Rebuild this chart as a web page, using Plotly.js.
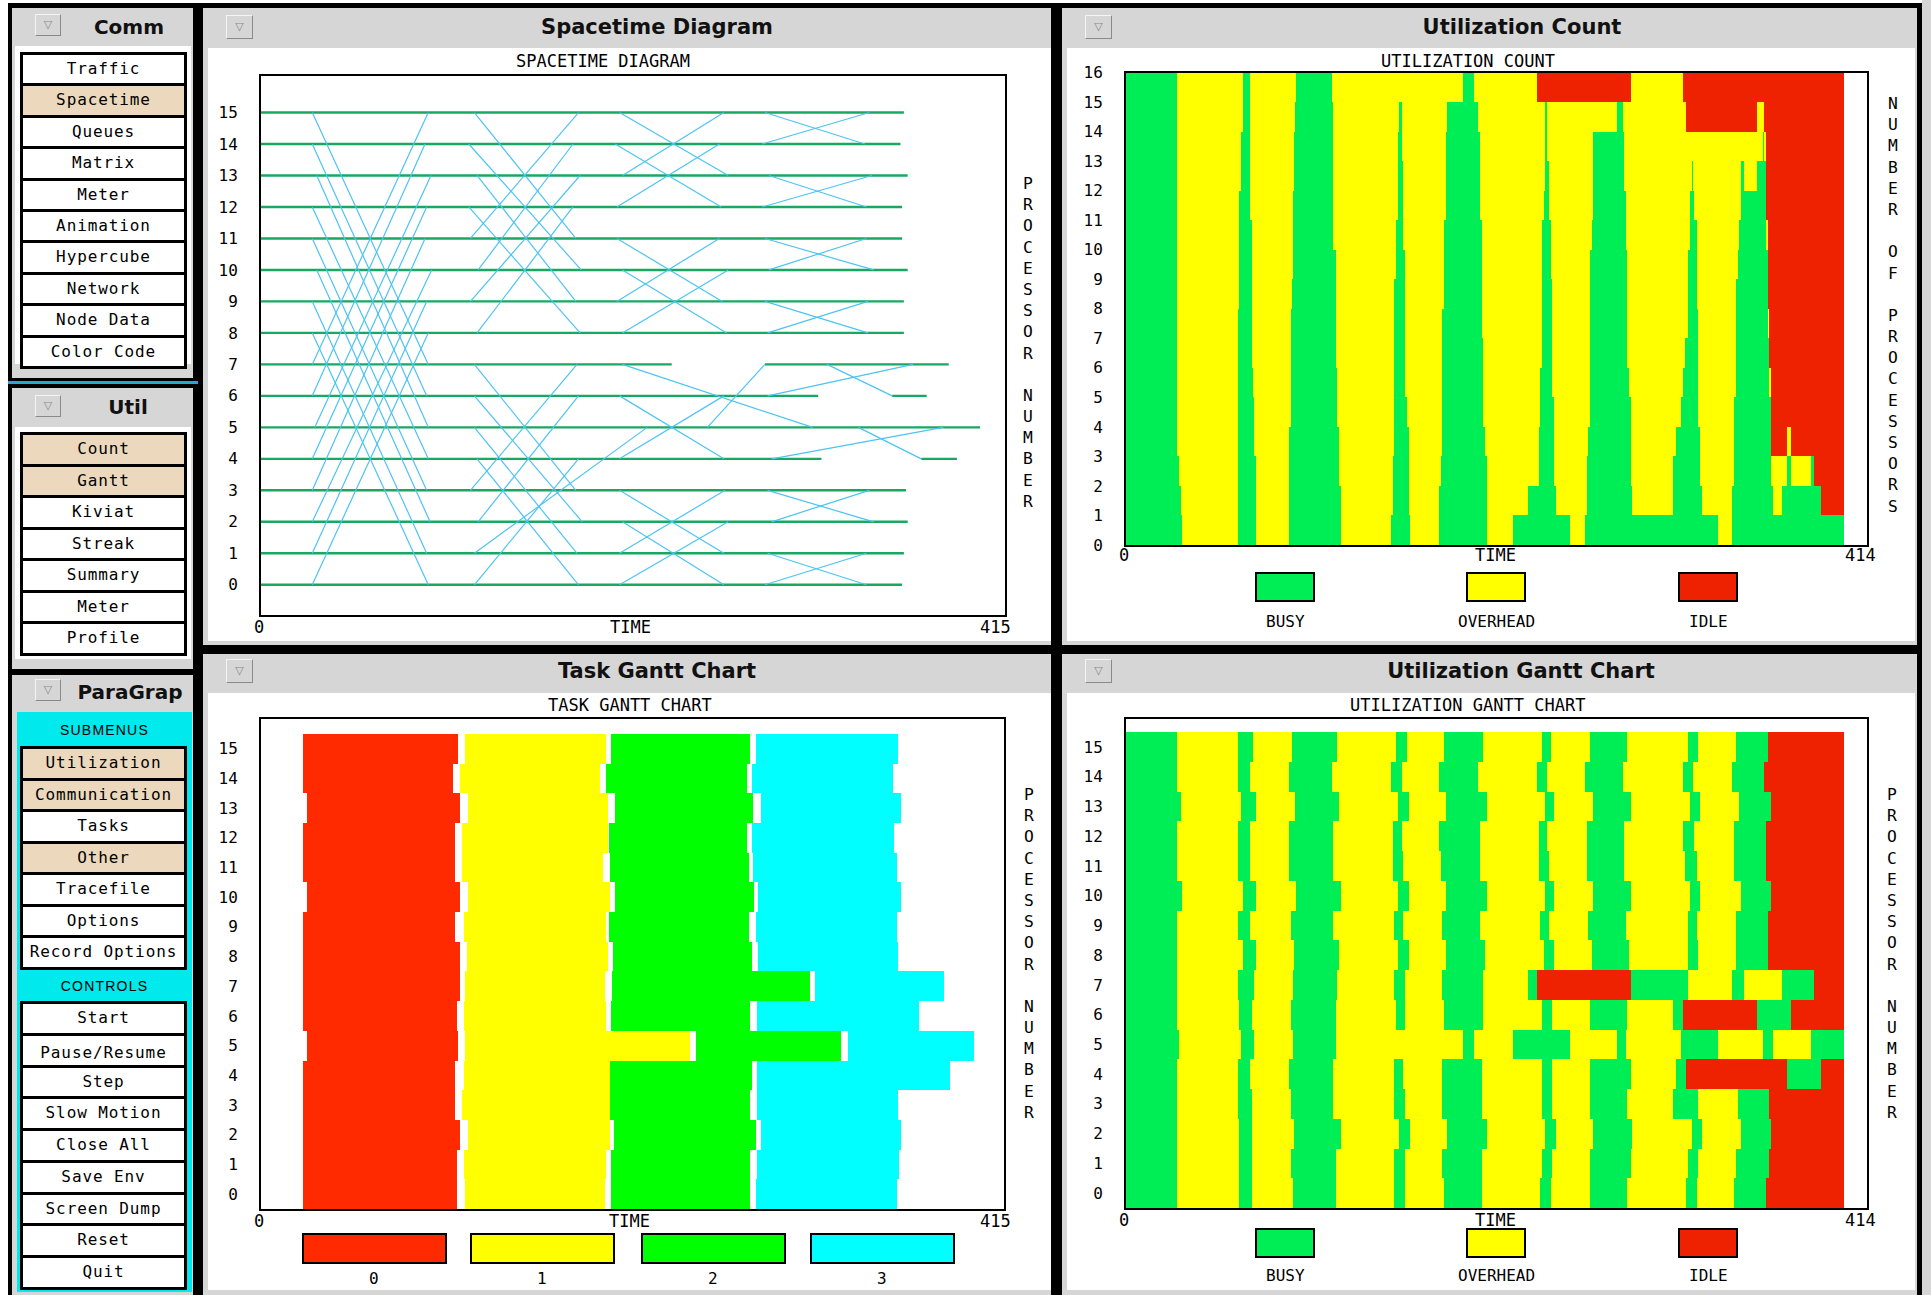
<!DOCTYPE html>
<html><head><meta charset="utf-8">
<script src="https://cdn.plot.ly/plotly-3.0.1.min.js"></script>
<style>
body{margin:0;width:1931px;height:1295px;overflow:hidden;background:#fff;position:relative;}
#chrome div{box-sizing:border-box;}
#plot{position:absolute;left:0;top:0;width:1931px;height:1295px;}
</style></head><body>
<div id="chrome"></div>
<div id="plot"></div>
<script>
// ---------------- DATA ----------------
// Sidebar menus
const commMenu = ["Traffic","Spacetime","Queues","Matrix","Meter","Animation","Hypercube","Network","Node Data","Color Code"];
const utilMenu = ["Count","Gantt","Kiviat","Streak","Summary","Meter","Profile"];
const subMenu = ["Utilization","Communication","Tasks","Other","Tracefile","Options","Record Options"];
const controlMenu = ["Start","Pause/Resume","Step","Slow Motion","Close All","Save Env","Screen Dump","Reset","Quit"];
const selectedItems = ["Spacetime","Count","Gantt","Utilization","Communication","Other"];

const processors = [0,1,2,3,4,5,6,7,8,9,10,11,12,13,14,15];
const countTicks = [0,1,2,3,4,5,6,7,8,9,10,11,12,13,14,15,16];

// Spacetime: processor activity lines
const lineProc  = [15,14,13,12,11,10,9,8,7,7,6,6,5,4,4,3,2,1,0];
const lineStart = [0,0,0,0,0,0,0,0,0,281.1,0,352.1,0,0,368.3,0,0,0,0];
const lineEnd   = [358.6,356.7,360.7,357.6,357.6,360.7,358.6,358.6,229.1,383.6,310.8,371.3,401.1,312.6,388.2,359.8,360.7,358.6,357.6];
// Spacetime: messages (from, to, send time, receive time)
const msgFrom = [15,14,13,12,11,10,9,8,7,6,5,4,3,2,1,0,
                 15,14,13,12,11,10,9,8,7,6,5,4,3,2,1,0,
                 15,14,13,12,11,10,9,8,7,6,5,4,3,2,1,0,
                 15,14,13,12,11,10,9,8,7,6,5,4,3,2,1,0];
const msgTo   = [7,6,5,4,3,2,1,0,15,14,13,12,11,10,9,8,
                 11,10,9,8,15,14,13,12,3,2,1,0,7,6,5,4,
                 13,12,15,14,9,8,11,10,5,4,7,6,1,0,3,2,
                 14,15,12,13,10,11,8,9,6,7,4,5,2,3,0,1];
const msgSend = [28.6,28.6,31.1,28.6,28.6,31.1,28.6,28.6,28.6,28.6,30.0,28.6,28.6,28.6,28.6,28.6,
                 119.0,115.9,120.5,115.9,116.8,121.1,116.8,120.5,119.0,119.0,119.0,120.5,116.8,121.1,119.0,119.0,
                 200.0,197.6,201.6,198.5,198.5,201.6,198.5,201.6,201.6,200.0,249.0,200.0,200.0,201.6,200.0,200.0,
                 281.1,279.6,283.3,279.6,281.1,283.3,281.1,282.6,315.7,282.6,333.2,284.8,282.6,284.8,282.6,281.1];
const msgRecv = [93.3,92.4,93.3,93.3,92.4,94.3,92.4,93.3,93.3,91.5,94.8,92.4,91.5,95.2,92.4,93.3,
                 175.6,178.6,175.6,178.0,177.1,174.0,178.0,174.0,175.6,179.2,176.3,177.1,176.3,177.1,215.4,177.1,
                 260.6,256.7,258.2,255.7,257.3,259.7,255.7,260.6,307.7,258.2,281.1,258.2,258.2,258.2,258.8,260.6,
                 336.8,339.3,337.7,340.8,341.7,337.7,338.6,338.6,352.1,363.7,368.3,380.6,341.7,339.3,337.7,337.7];

// Task Gantt: start / end of each task on processors 0..15
const taskNames = ["0","1","2","3"];
const task0Start = [23.5,23.5,23.5,23.5,23.5,25.7,23.5,23.5,23.5,23.5,25.7,23.5,23.5,25.7,23.5,23.5];
const task0End   = [109.3,109.3,111.2,108.4,108.4,109.9,109.3,110.9,111.2,108.4,111.2,108.4,108.4,111.2,107.2,109.9];
const task1Start = [114.2,113.3,115.4,112.1,113.3,114.2,113.3,114.2,115.1,113.3,115.4,112.1,112.4,115.4,110.9,114.2];
const task1End   = [192.0,192.6,194.8,194.8,194.8,239.5,192.6,192.0,193.6,192.6,194.8,191.1,193.6,193.6,189.6,192.6];
const task2Start = [195.7,195.7,197.3,195.1,195.1,243.2,195.7,196.3,196.6,194.2,197.9,195.1,194.2,197.9,192.6,195.7];
const task2End   = [273.2,273.2,276.3,273.2,274.1,323.8,273.2,306.9,274.1,272.3,275.3,272.3,271.4,274.7,271.4,273.2];
const task3Start = [276.3,277.2,279.0,277.2,277.2,327.7,277.2,309.7,277.8,276.3,277.8,274.7,274.1,279.0,274.1,276.3];
const task3End   = [355.0,356.5,357.4,355.6,385.0,398.2,367.6,381.7,355.6,355.0,357.4,355.0,353.5,357.4,352.9,355.6];

// Utilization Gantt: state change times per processor, and state of each interval
// B = busy, O = overhead, I = idle
const stateNames = ["BUSY","OVERHEAD","IDLE"];
const utilBounds = [
 [0,28.7,63.3,70.2,93.1,117.1,149.9,155.9,177.7,198.7,231.3,237.3,259.2,280.1,312.9,318.8,339.9,357.6,401.1],
 [0,28.7,63.3,70.2,92.2,117.1,149.9,155.9,176.7,198.7,232.6,238.2,259.2,282.0,314.2,319.8,340.8,359.4,401.1],
 [0,28.7,63.3,70.2,94.0,120.1,152.7,158.9,179.5,201.5,234.1,240.1,261.1,282.9,316.0,321.6,343.6,360.4,401.1],
 [0,28.7,62.4,70.2,92.2,115.8,149.9,155.9,176.7,198.7,232.2,238.2,259.2,280.1,305.8,319.8,341.7,359.4,401.1],
 [0,28.7,62.4,69.3,91.3,115.8,149.9,154.9,176.7,198.7,232.6,238.2,259.2,282.0,307.1,312.9,369.5,388.3,401.1],
 [0,29.6,64.3,71.5,93.1,117.1,188.5,194.4,216.4,248.1,274.1,279.2,309.9,330.9,355.7,361.7,382.5,401.1],
 [0,28.7,63.3,70.2,92.2,117.1,150.8,155.9,177.7,199.6,232.6,238.2,259.2,280.1,305.8,311.0,352.7,371.5,401.1],
 [0,28.7,62.4,71.5,93.1,118.1,149.9,155.9,176.7,199.6,224.4,229.4,282.0,313.8,338.8,345.5,366.7,384.4,401.1],
 [0,28.7,65.6,72.4,94.0,119.2,152.2,157.9,178.6,200.6,233.5,239.1,260.2,281.0,314.2,319.8,340.8,358.5,401.1],
 [0,28.7,62.4,69.3,92.2,115.8,149.9,154.9,176.7,197.8,231.3,236.3,258.3,279.2,314.2,318.8,340.8,358.5,401.1],
 [0,31.5,65.6,72.4,95.0,120.1,152.2,157.9,178.6,201.5,234.1,239.1,261.1,282.0,315.1,320.7,343.6,360.4,401.1],
 [0,28.7,62.4,69.3,91.3,115.8,149.0,154.9,175.8,197.8,230.7,236.3,257.4,278.2,312.3,318.8,339.9,357.6,401.1],
 [0,28.7,62.4,69.3,91.3,115.8,149.0,154.0,174.9,197.8,230.7,235.4,257.4,278.2,311.4,317.3,339.9,357.6,401.1],
 [0,30.5,64.3,72.4,94.4,119.2,152.2,157.9,178.6,201.5,234.1,239.1,261.1,282.0,315.1,320.7,342.7,360.4,401.1],
 [0,28.7,62.4,69.3,91.3,114.9,147.9,154.0,174.9,196.5,229.4,235.4,256.4,277.9,311.0,317.0,338.8,356.6,401.1],
 [0,28.7,62.4,71.1,92.9,118.1,150.8,156.8,177.7,199.6,232.2,237.3,259.2,280.1,314.2,319.8,340.8,358.5,401.1]
];
const utilStates = [
 "BOBOBOBOBOBOBOBOBI","BOBOBOBOBOBOBOBOBI","BOBOBOBOBOBOBOBOBI","BOBOBOBOBOBOBOBOBI",
 "BOBOBOBOBOBOBOBIBI","BOBOBOBOBOBOBOBOB","BOBOBOBOBOBOBOBIBI","BOBOBOBOBOBIBOBOBI",
 "BOBOBOBOBOBOBOBOBI","BOBOBOBOBOBOBOBOBI","BOBOBOBOBOBOBOBOBI","BOBOBOBOBOBOBOBOBI",
 "BOBOBOBOBOBOBOBOBI","BOBOBOBOBOBOBOBOBI","BOBOBOBOBOBOBOBOBI","BOBOBOBOBOBOBOBOBI"
];

// ---------------- STYLE ----------------
const C = {busy:'#00ee55', over:'#ffff00', idle:'#ee2200',
           task:['#ff2a00','#ffff00','#00ff00','#00ffff'],
           procLine:'#18a862', msg:'#4cc4f2', hl:'#ecd9bd', gray:'#d6d6d6', cyan:'#00e9ec'};
const MONO = '"DejaVu Sans Mono", "Liberation Mono", monospace';
const W = 1931, H = 1295;

// ---------------- CHROME (HTML) ----------------
const chrome = document.getElementById('chrome');
function el(x,y,w,h,style,text){
  const d=document.createElement('div');
  d.style.cssText=`position:absolute;left:${x}px;top:${y}px;width:${w}px;height:${h}px;${style||''}`;
  if(text!=null) d.textContent=text;
  chrome.appendChild(d); return d;
}
function title(cx,cy,text,size){
  el(cx-200,cy-15,400,30,`font:bold ${size}px "DejaVu Sans",sans-serif;color:#111;text-align:center;line-height:30px;white-space:nowrap;`,text);
}
function tri(x,y,w,h){
  el(x,y,w,h,`background:${C.gray};border:1px solid;border-color:#f4f4f4 #8a8a8a #8a8a8a #f4f4f4;font:11px "DejaVu Sans";color:#888;text-align:center;line-height:${h-2}px;`,'\u25BD');
}
function group(x,y,w,h,labels){
  el(x,y,w,h,'background:#000');
  const n=labels.length, bh=(h-6-3*(n-1))/n;
  labels.forEach((t,i)=>{
    const pr = t==='Pause/Resume';
    el(x+3,y+3+i*(bh+3),w-6,bh,
      `background:${selectedItems.includes(t)?C.hl:'#fff'};font:16px ${MONO};letter-spacing:0.9px;text-align:center;line-height:${pr?bh+6:bh}px;color:#000;white-space:nowrap;overflow:hidden;`,t);
  });
}
// sidebar
el(8,3,190,1292,'background:#000');
el(12,8,181,370,`background:${C.gray}`);
el(15,46,176,318,'background:#fff');
title(129,27,'Comm',20); tri(35,14,26,22);
group(20,52,167,317,commMenu);
el(8,381,190,3,`background:#2aa7d0`);
el(12,388,181,281,`background:${C.gray}`);
el(15,427,176,232,'background:#fff');
title(128,407,'Util',20); tri(35,395,26,22);
group(20,432,167,224,utilMenu);
el(12,675,181,620,`background:${C.gray}`);
title(130,692,'ParaGrap',20); tri(35,679,26,22);
el(17,712,175,580,`background:${C.cyan}`);
el(17,720,175,20,'font:14px "Liberation Sans",Arial,sans-serif;letter-spacing:1.2px;text-align:center;line-height:20px;color:#000;','SUBMENUS');
group(20,746,167,224,subMenu);
el(17,976,175,20,'font:14px "Liberation Sans",Arial,sans-serif;letter-spacing:1.2px;text-align:center;line-height:20px;color:#000;','CONTROLS');
group(20,1001,167,289,controlMenu);
// main windows
el(198,3,1724,1292,'background:#000');
el(1922,0,9,1295,`background:${C.gray}`);
const wins = [
  {x:203,y:8,w:848,h:637,cy:27,tx:657,t:'Spacetime Diagram'},
  {x:1062,y:8,w:855,h:637,cy:27,tx:1522,t:'Utilization Count'},
  {x:203,y:654,w:848,h:641,cy:671,tx:657,t:'Task Gantt Chart'},
  {x:1062,y:654,w:855,h:641,cy:671,tx:1521,t:'Utilization Gantt Chart'}
];
wins.forEach(o=>{
  el(o.x,o.y,o.w,o.h,`background:${C.gray}`);
  el(o.x+5,o.y+40-(o.y>600?1:0),o.w-(o.x>1000?7:5),o.h-44,'background:#fff');
  title(o.tx,o.cy,o.t,21);
  tri(o.x+23,o.cy-12,27,24);
});

// ---------------- PLOT ----------------
const px = x => x/W, py = y => 1 - y/H;
const traces = [];

// Spacetime: processor lines
{
  const xs=[],ys=[];
  lineProc.forEach((p,i)=>{xs.push(lineStart[i],lineEnd[i],null);ys.push(p,p,null);});
  traces.push({type:'scatter',mode:'lines',x:xs,y:ys,xaxis:'x',yaxis:'y',line:{color:C.procLine,width:2.4},hoverinfo:'skip'});
}
// Spacetime: messages
{
  const xs=[],ys=[];
  msgFrom.forEach((f,i)=>{xs.push(msgSend[i],msgRecv[i],null);ys.push(f,msgTo[i],null);});
  traces.push({type:'scatter',mode:'lines',x:xs,y:ys,xaxis:'x',yaxis:'y',line:{color:C.msg,width:1.2},hoverinfo:'skip'});
}

// Task Gantt bars
const taskStarts=[task0Start,task1Start,task2Start,task3Start];
const taskEnds=[task0End,task1End,task2End,task3End];
taskNames.forEach((nm,k)=>{
  traces.push({type:'bar',orientation:'h',y:processors,base:taskStarts[k],
    x:processors.map(p=>taskEnds[k][p]-taskStarts[k][p]),width:processors.map(()=>1),
    xaxis:'x3',yaxis:'y3',marker:{color:C.task[k],line:{width:0}},name:nm,hoverinfo:'skip'});
});

// Utilization Gantt bars
const stateKey = {B:0,O:1,I:2};
const stateColor = [C.busy,C.over,C.idle];
const ug = [0,1,2].map(()=>({y:[],base:[],x:[]}));
processors.forEach(p=>{
  const b=utilBounds[p], s=utilStates[p];
  for(let i=0;i<s.length;i++){
    const k=stateKey[s[i]];
    ug[k].y.push(p); ug[k].base.push(b[i]); ug[k].x.push(b[i+1]-b[i]);
  }
});
ug.forEach((g,k)=>traces.push({type:'bar',orientation:'h',y:g.y,base:g.base,x:g.x,width:g.y.map(()=>1),
  xaxis:'x4',yaxis:'y4',marker:{color:stateColor[k],line:{width:0}},name:stateNames[k],hoverinfo:'skip'}));

// Utilization Count: number of processors in each state over time (aggregated from the Gantt data)
{
  const set=new Set(); utilBounds.forEach(b=>b.forEach(t=>set.add(t)));
  const times=[...set].sort((a,b)=>a-b);
  const mids=[],wids=[],cnt=[[],[],[]];
  for(let i=0;i<times.length-1;i++){
    const m=(times[i]+times[i+1])/2, c=[0,0,0];
    processors.forEach(p=>{
      const b=utilBounds[p], s=utilStates[p];
      for(let j=0;j<s.length;j++){ if(m>=b[j]&&m<b[j+1]){c[stateKey[s[j]]]++;break;} }
    });
    mids.push(m); wids.push(times[i+1]-times[i]); c.forEach((v,k)=>cnt[k].push(v));
  }
  const base1=cnt[0], base2=cnt[0].map((v,i)=>v+cnt[1][i]);
  [[cnt[0],mids.map(()=>0)],[cnt[1],base1],[cnt[2],base2]].forEach(([h,bs],k)=>{
    traces.push({type:'bar',x:mids,y:h,base:bs,width:wids,xaxis:'x2',yaxis:'y2',
      marker:{color:stateColor[k],line:{width:0}},name:stateNames[k],hoverinfo:'skip'});
  });
}

const xax = (d,r)=>({domain:[px(d[0]),px(d[1])],range:r,showline:true,mirror:true,linecolor:'#000',linewidth:2,
  showgrid:false,zeroline:false,showticklabels:false,ticks:'',fixedrange:true});
const yax = (d,r,vals)=>({domain:[py(d[1]),py(d[0])],range:r,showline:true,mirror:true,linecolor:'#000',linewidth:2,
  showgrid:false,zeroline:false,ticks:'',tickmode:'array',tickvals:vals,ticktext:vals.map(String),
  tickfont:{family:MONO,size:16,color:'#000'},ticklabelstandoff:18,fixedrange:true});

const ann=[], shp=[];
const F17 = {family:MONO,size:17,color:'#000'};
function txt(t,x,y,size,extra){ann.push(Object.assign({text:t,x:px(x),y:py(y),xref:'paper',yref:'paper',showarrow:false,
  xanchor:'center',yanchor:'middle',font:{family:MONO,size:size||17,color:'#000'}},extra||{}));}
function vtxt(t,x,y){txt(t.split('').map(c=>c===' '?'\u00a0':c).join('<br>'),x,y,16.3);}
function endLabel(t,val,xr,y,shift){ann.push({text:t,x:val,xref:xr,y:py(y),yref:'paper',showarrow:false,
  xanchor:'center',yanchor:'middle',xshift:shift,font:F17});}

// spacetime
txt('SPACETIME DIAGRAM',603,61);
txt('TIME',630,627);
endLabel('0',0,'x',627,-2); endLabel('415',415,'x',627,-10);
vtxt('PROCESSOR NUMBER',1028,342);
// count
txt('UTILIZATION COUNT',1467.5,61);
txt('TIME',1495,555);
endLabel('0',0,'x2',555,-2); endLabel('414',414,'x2',555,-7);
vtxt('NUMBER OF PROCESSORS',1893,305);
// task gantt
txt('TASK GANTT CHART',629.5,705);
txt('TIME',629.5,1221);
endLabel('0',0,'x3',1221,-2); endLabel('415',415,'x3',1221,-9);
vtxt('PROCESSOR NUMBER',1029,953);
// util gantt
txt('UTILIZATION GANTT CHART',1467.8,705);
txt('TIME',1495,1220);
endLabel('0',0,'x4',1220,-2); endLabel('414',414,'x4',1220,-7);
vtxt('PROCESSOR NUMBER',1892,953);

// legends
function legBox(x0,x1,y0,y1,col){shp.push({type:'rect',xref:'paper',yref:'paper',x0:px(x0),x1:px(x1),y0:py(y1),y1:py(y0),
  fillcolor:col,line:{color:'#000',width:2}});}
const stateLegX=[1256,1467,1679];
stateNames.forEach((nm,k)=>{
  legBox(stateLegX[k],stateLegX[k]+58,573,601,stateColor[k]); txt(nm,stateLegX[k]+29,621,16);
  legBox(stateLegX[k],stateLegX[k]+58,1229,1257,stateColor[k]); txt(nm,stateLegX[k]+29,1275,16);
});
const taskLegX=[303,471,642,811];
taskNames.forEach((nm,k)=>{legBox(taskLegX[k],taskLegX[k]+143,1234,1263,C.task[k]); txt(nm,taskLegX[k]+71,1278,16);});

const layout = {
  width:W,height:H,margin:{l:0,r:0,t:0,b:0},paper_bgcolor:'rgba(0,0,0,0)',plot_bgcolor:'#fff',
  showlegend:false,barmode:'overlay',bargap:0,
  xaxis:Object.assign(xax([261,1005],[0,415]),{anchor:'y'}),
  yaxis:Object.assign(yax([76,615],[-0.96,16.16],processors),{anchor:'x'}),
  xaxis2:Object.assign(xax([1126,1867],[0,414]),{anchor:'y2'}),
  yaxis2:Object.assign(yax([72.6,545],[0,16],countTicks),{anchor:'x2'}),
  xaxis3:Object.assign(xax([261,1004],[0,415]),{anchor:'y3'}),
  yaxis3:Object.assign(yax([719,1209],[-0.5,16.0],processors),{anchor:'x3'}),
  xaxis4:Object.assign(xax([1126,1867],[0,414]),{anchor:'y4'}),
  yaxis4:Object.assign(yax([719,1208],[-0.5,15.94],processors),{anchor:'x4'}),
  annotations:ann, shapes:shp
};
Plotly.newPlot('plot',traces,layout,{staticPlot:true,displayModeBar:false});
</script>
</body></html>
